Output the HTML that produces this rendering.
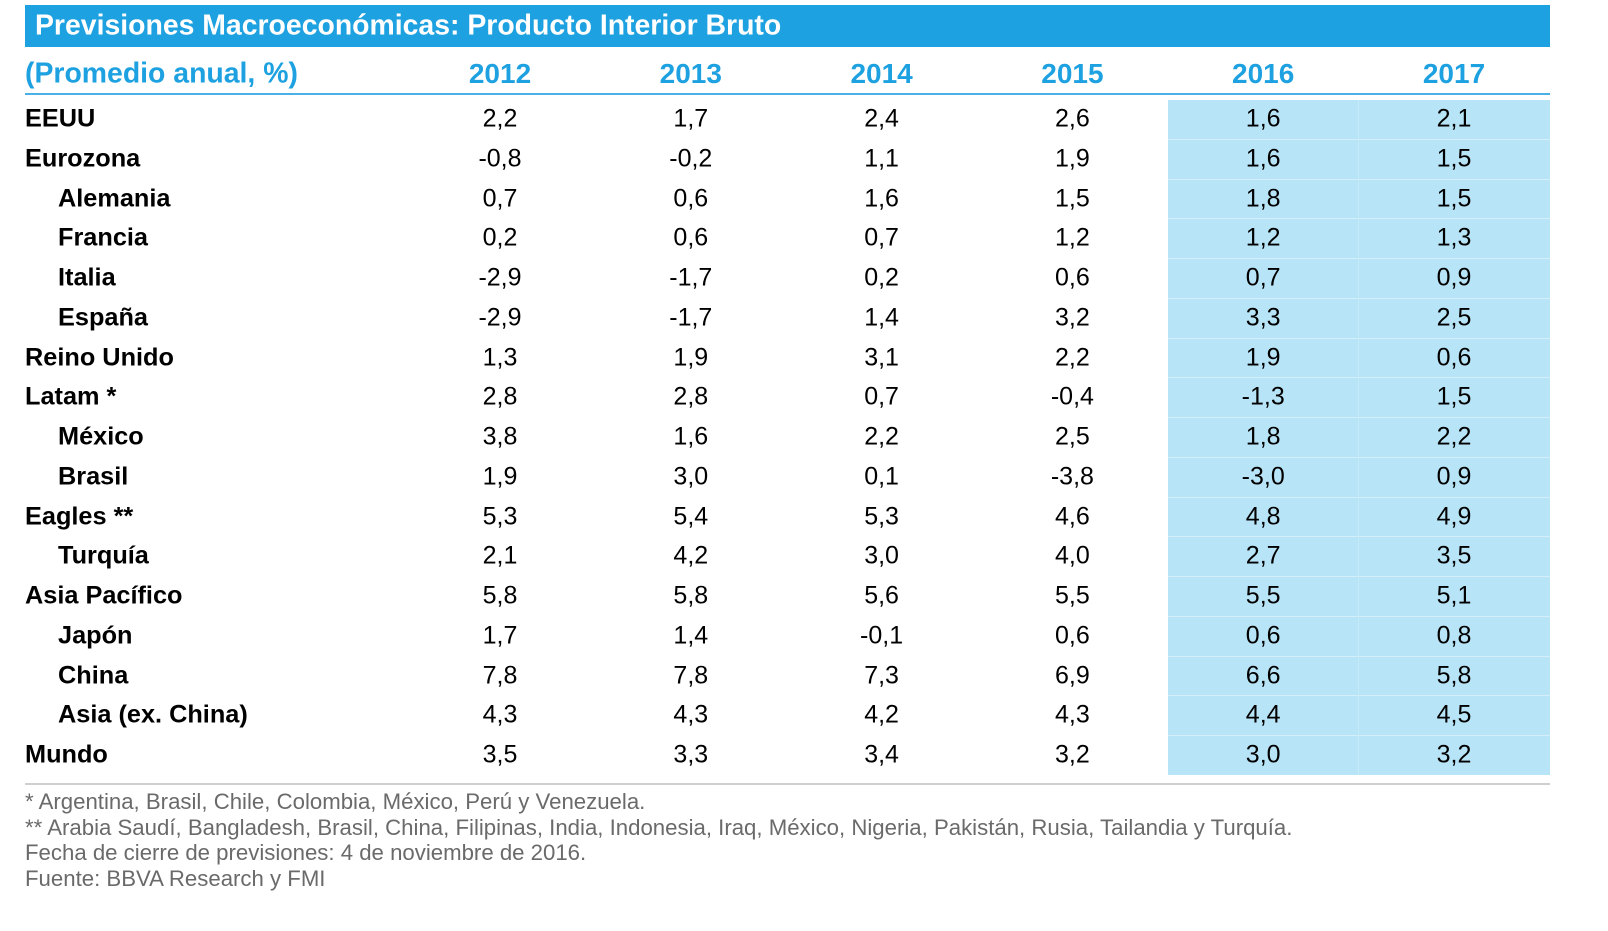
<!DOCTYPE html>
<html><head><meta charset="utf-8"><style>
body{margin:0;width:1608px;height:931px;background:#fff;position:relative;font-family:"Liberation Sans",Arial,sans-serif;overflow:hidden}
.a{position:absolute;white-space:nowrap}
.lab{font-weight:bold;font-size:25.3px;color:#000;transform:translateY(-50%)}
.val{font-size:25px;color:#000;transform:translate(-50%,-50%)}
.hdr{font-weight:bold;font-size:28px;color:#1ea1e0;transform:translate(-50%,-50%)}
.fn{font-size:22.2px;color:#6a6a6a;left:25px;transform:translateY(-50%)}
</style></head><body>
<div class="a" style="left:25px;top:5px;width:1525px;height:42px;background:#1ea1e0"></div>
<div class="a" style="left:35px;top:26px;transform:translateY(-50%);color:#fff;font-weight:bold;font-size:28.4px">Previsiones Macroeconómicas: Producto Interior Bruto</div>
<div class="a" style="left:25px;top:74px;transform:translateY(-50%);color:#1ea1e0;font-weight:bold;font-size:28.4px">(Promedio anual, %)</div>
<div class="a" style="left:25px;top:93px;width:1525px;height:2px;background:#4ab0e6"></div>
<div class="a" style="left:1168px;top:100px;width:382px;height:675px;background:#b8e4f7"></div>
<div class="a" style="left:25px;top:783px;width:1525px;height:2px;background:#cfcfcf"></div>
<div class="a fn" style="top:802px">* Argentina, Brasil, Chile, Colombia, México, Perú y Venezuela.</div>
<div class="a fn" style="top:828px">** Arabia Saudí, Bangladesh, Brasil, China, Filipinas, India, Indonesia, Iraq, México, Nigeria, Pakistán, Rusia, Tailandia y Turquía.</div>
<div class="a fn" style="top:853px">Fecha de cierre de previsiones: 4 de noviembre de 2016.</div>
<div class="a fn" style="top:879px">Fuente: BBVA Research y FMI</div>
<script>
const years=["2012","2013","2014","2015","2016","2017"];
const rows=["EEUU","Eurozona","Alemania","Francia","Italia","España","Reino Unido","Latam *","México","Brasil","Eagles **","Turquía","Asia Pacífico","Japón","China","Asia (ex. China)","Mundo"];
const indent=[0,0,1,1,1,1,0,0,1,1,0,1,0,1,1,1,0];
const v2012=["2,2","-0,8","0,7","0,2","-2,9","-2,9","1,3","2,8","3,8","1,9","5,3","2,1","5,8","1,7","7,8","4,3","3,5"];
const v2013=["1,7","-0,2","0,6","0,6","-1,7","-1,7","1,9","2,8","1,6","3,0","5,4","4,2","5,8","1,4","7,8","4,3","3,3"];
const v2014=["2,4","1,1","1,6","0,7","0,2","1,4","3,1","0,7","2,2","0,1","5,3","3,0","5,6","-0,1","7,3","4,2","3,4"];
const v2015=["2,6","1,9","1,5","1,2","0,6","3,2","2,2","-0,4","2,5","-3,8","4,6","4,0","5,5","0,6","6,9","4,3","3,2"];
const v2016=["1,6","1,6","1,8","1,2","0,7","3,3","1,9","-1,3","1,8","-3,0","4,8","2,7","5,5","0,6","6,6","4,4","3,0"];
const v2017=["2,1","1,5","1,5","1,3","0,9","2,5","0,6","1,5","2,2","0,9","4,9","3,5","5,1","0,8","5,8","4,5","3,2"];
const series=[v2012,v2013,v2014,v2015,v2016,v2017];
const colX=i=>500+i*190.8;
const rowY=r=>119+r*39.75;
function add(cls,txt,x,y){const d=document.createElement('div');d.className='a '+cls;d.textContent=txt;d.style.left=x+'px';d.style.top=y+'px';document.body.appendChild(d);return d;}
years.forEach((y,i)=>{const d=add('hdr',y,colX(i),74);

});
for(let r=1;r<rows.length;r++){const s=document.createElement('div');s.className='a';s.style.cssText='left:1168px;width:382px;height:1px;background:#d4eefa;top:'+(rowY(r)-20)+'px';


document.body.appendChild(s);}
const vs=document.createElement('div');vs.className='a';vs.style.cssText='left:1358px;top:100px;width:1px;height:675px;background:#c6eaf9';


document.body.appendChild(vs);
rows.forEach((n,r)=>{const d=add('lab',n,indent[r]?58:25,rowY(r));


series.forEach((s,i)=>{const c=add('val',s[r],colX(i),rowY(r));

});});
</script>
</body></html>
